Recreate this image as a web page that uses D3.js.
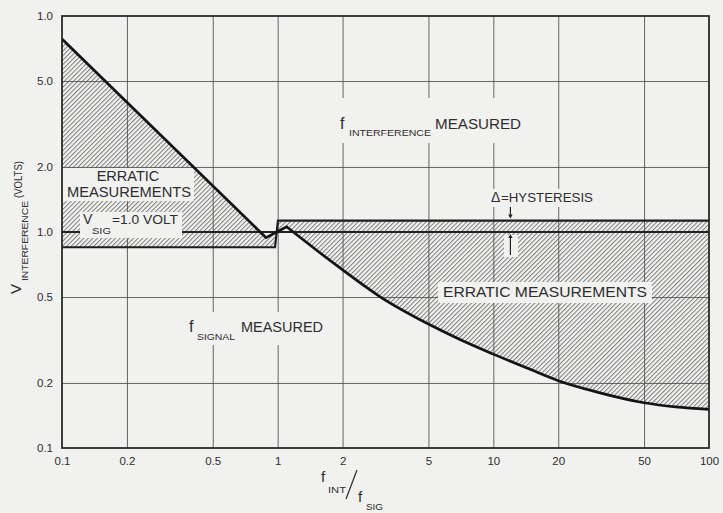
<!DOCTYPE html>
<html>
<head>
<meta charset="utf-8">
<script src="https://cdn.jsdelivr.net/npm/d3@7"></script>
<style>
  body { margin: 0; background: #f1f1ef; }
  svg text { font-family: "Liberation Sans", Arial, sans-serif; fill: #2e2e2e; }
</style>
</head>
<body>
<div id="chart"></div>
<script>
// values
var xTicks = [0.1, 0.2, 0.5, 1, 2, 5, 10, 20, 50, 100];
var xTickLabels = ["0.1", "0.2", "0.5", "1", "2", "5", "10", "20", "50", "100"];
var yTicks = [0.1, 0.2, 0.5, 1, 2, 5, 10];
var yTickLabels = ["0.1", "0.2", "0.5", "1.0", "2.0", "5.0", "1.0"];

// boundary curve f_INT/f_SIG -> V_INTERFERENCE
var boundaryX = [0.1, 0.883, 1.1, 1.5, 2, 3, 5, 7, 10, 15, 20, 30, 50, 70, 100];
var boundaryV = [7.83, 0.941, 1.057, 0.83, 0.668, 0.50, 0.375, 0.318, 0.272, 0.230, 0.205, 0.182, 0.162, 0.155, 0.151];

// hysteresis band
var vSig = 1.0;
var lowBandX = [0.1, 0.972];
var lowBandV = 0.85;
var highBandX = [1.003, 100];
var highBandV = 1.13;
var arrowX = 12;

var width = 723, height = 513;
var plotL = 62, plotR = 709, plotT = 16, plotB = 448;
var paper = "#f1f1ef";

var svg = d3.select("#chart").append("svg")
    .attr("width", width)
    .attr("height", height);

svg.append("rect").attr("width", width).attr("height", height).attr("fill", paper);

var x = d3.scaleLog().domain([0.1, 100]).range([plotL, plotR]);
var y = d3.scaleLog().domain([0.1, 10]).range([plotB, plotT]);

// hatch pattern
var defs = svg.append("defs");
var pat = defs.append("pattern")
    .attr("id", "hatch")
    .attr("patternUnits", "userSpaceOnUse")
    .attr("width", 3.2)
    .attr("height", 3.2)
    .attr("patternTransform", "rotate(45)");
pat.append("line")
    .attr("x1", 0.5).attr("y1", 0).attr("x2", 0.5).attr("y2", 3.2)
    .attr("stroke", "#7d7d7d").attr("stroke-width", 1);

var pts = boundaryX.map(function(d, i) { return [x(d), y(boundaryV[i])]; });
var straight = d3.line();
var smooth = d3.line().curve(d3.curveMonotoneX);
var curvePath = straight(pts.slice(0, 3)) + smooth(pts.slice(2)).replace(/^M/, "L");

var hatchPath = curvePath +
    "L" + x(highBandX[1]) + "," + y(highBandV) +
    "L" + x(highBandX[0]) + "," + y(highBandV) +
    "L" + x(lowBandX[1]) + "," + y(lowBandV) +
    "L" + x(lowBandX[0]) + "," + y(lowBandV) + "Z";

svg.append("path")
    .attr("d", hatchPath)
    .attr("fill", "url(#hatch)");

// grid
var gridX = xTicks.slice(1, -1);
var gridY = yTicks.slice(1, -1);

svg.append("g")
    .attr("transform", "translate(0," + plotB + ")")
    .call(d3.axisBottom(x).tickValues(gridX).tickSize(-(plotB - plotT)).tickFormat(""))
    .call(function(g) {
        g.select(".domain").remove();
        g.selectAll("line").attr("stroke", "#555").attr("stroke-width", 0.9);
    });

svg.append("g")
    .attr("transform", "translate(" + plotL + ",0)")
    .call(d3.axisLeft(y).tickValues(gridY).tickSize(-(plotR - plotL)).tickFormat(""))
    .call(function(g) {
        g.select(".domain").remove();
        g.selectAll("line").attr("stroke", "#555").attr("stroke-width", 0.9);
    });

// hysteresis lines
svg.append("line")
    .attr("x1", x(0.1)).attr("x2", x(100))
    .attr("y1", y(vSig)).attr("y2", y(vSig))
    .attr("stroke", "#222").attr("stroke-width", 2);

svg.append("path")
    .attr("d", straight([
        [x(lowBandX[0]), y(lowBandV)],
        [x(lowBandX[1]), y(lowBandV)],
        [x(highBandX[0]), y(highBandV)],
        [x(highBandX[1]), y(highBandV)]
    ]))
    .attr("fill", "none")
    .attr("stroke", "#1e1e1e").attr("stroke-width", 2.2);

// label backgrounds that cut the hatch and grid
var boxes = [
    [62, 168, 132, 33],   // ERRATIC MEASUREMENTS (left)
    [80, 212, 102, 26],   // V SIG = 1.0 VOLT
    [336, 98, 190, 45],   // f INTERFERENCE MEASURED
    [487, 189, 111, 18],  // delta = hysteresis
    [504, 235, 14, 22],   // up arrow
    [438, 282, 214, 21],  // ERRATIC MEASUREMENTS (right)
    [185, 312, 142, 33]   // f SIGNAL MEASURED
];
svg.selectAll("rect.box").data(boxes).enter().append("rect")
    .attr("class", "box")
    .attr("x", function(d) { return d[0]; })
    .attr("y", function(d) { return d[1]; })
    .attr("width", function(d) { return d[2]; })
    .attr("height", function(d) { return d[3]; })
    .attr("fill", paper);

// boundary curve
svg.append("path")
    .attr("d", curvePath)
    .attr("fill", "none")
    .attr("stroke", "#141414")
    .attr("stroke-width", 2.7)
    .attr("stroke-linejoin", "miter");

// frame
svg.append("rect")
    .attr("x", plotL).attr("y", plotT)
    .attr("width", plotR - plotL).attr("height", plotB - plotT)
    .attr("fill", "none").attr("stroke", "#2a2a2a").attr("stroke-width", 1.8);

// tick labels
svg.append("g")
    .attr("transform", "translate(0," + plotB + ")")
    .call(d3.axisBottom(x).tickValues(xTicks).tickSize(0).tickPadding(9)
        .tickFormat(function(d, i) { return xTickLabels[i]; }))
    .call(function(g) {
        g.select(".domain").remove();
        g.selectAll("text").attr("font-size", 11.5).attr("font-family", "Liberation Sans, Arial, sans-serif").attr("fill", "#444");
    });

svg.append("g")
    .attr("transform", "translate(" + plotL + ",0)")
    .call(d3.axisLeft(y).tickValues(yTicks).tickSize(0).tickPadding(9)
        .tickFormat(function(d, i) { return yTickLabels[i]; }))
    .call(function(g) {
        g.select(".domain").remove();
        g.selectAll("text").attr("font-size", 11.5).attr("font-family", "Liberation Sans, Arial, sans-serif").attr("fill", "#444");
    });

// annotations
function txt(s, px, py, size, len, anchor) {
    var t = svg.append("text")
        .attr("x", px).attr("y", py)
        .attr("font-size", size)
        .text(s);
    if (len) t.attr("textLength", len).attr("lengthAdjust", "spacingAndGlyphs");
    if (anchor) t.attr("text-anchor", anchor);
    return t;
}

txt("ERRATIC", 128, 181, 14.5, 0, "middle");
txt("MEASUREMENTS", 67, 197, 14.5, 124);

txt("V", 83, 224, 14);
txt("SIG", 92, 234, 9, 19);
txt("=1.0  VOLT", 112, 224, 13.5, 66);

txt("f", 340, 129, 16);
txt("INTERFERENCE", 349, 136, 9, 82);
txt("MEASURED", 435, 129, 15, 86);

txt("\u0394", 491, 202, 14);
txt("=HYSTERESIS", 501, 202, 13, 92);

txt("ERRATIC  MEASUREMENTS", 443, 297, 15, 204);

txt("f", 189, 332, 16);
txt("SIGNAL", 197, 340, 9, 38);
txt("MEASURED", 241, 332, 14.5, 82);

// hysteresis arrows
function arrow(x0, yFrom, yTo) {
    var dir = yTo > yFrom ? 1 : -1;
    svg.append("line")
        .attr("x1", x0).attr("x2", x0)
        .attr("y1", yFrom).attr("y2", yTo - dir * 3)
        .attr("stroke", "#222").attr("stroke-width", 1.2);
    svg.append("path")
        .attr("d", "M" + (x0 - 2.2) + "," + (yTo - dir * 5) + "L" + (x0 + 2.2) + "," + (yTo - dir * 5) + "L" + x0 + "," + (yTo - dir * 1) + "Z")
        .attr("fill", "#222");
}
arrow(x(arrowX), 207, y(highBandV) - 1);
arrow(x(arrowX), 255, y(vSig) + 1);

// axis titles
var yt = svg.append("g").attr("transform", "translate(21,294) rotate(-90)");
yt.append("text").attr("x", 0).attr("y", 0).attr("font-size", 15).text("V");
yt.append("text").attr("x", 13).attr("y", 7).attr("font-size", 9)
    .attr("textLength", 80).attr("lengthAdjust", "spacingAndGlyphs").text("INTERFERENCE");
yt.append("text").attr("x", 96).attr("y", 1).attr("font-size", 10.5)
    .attr("textLength", 37).attr("lengthAdjust", "spacingAndGlyphs").text("(VOLTS)");

txt("f", 321, 482, 15);
txt("INT", 328, 493, 8.5, 18);
svg.append("line")
    .attr("x1", 346).attr("y1", 499).attr("x2", 357).attr("y2", 470)
    .attr("stroke", "#333").attr("stroke-width", 1.3);
txt("f", 358, 502, 15);
txt("SIG", 366, 510, 8.5, 17);
</script>
</body>
</html>
